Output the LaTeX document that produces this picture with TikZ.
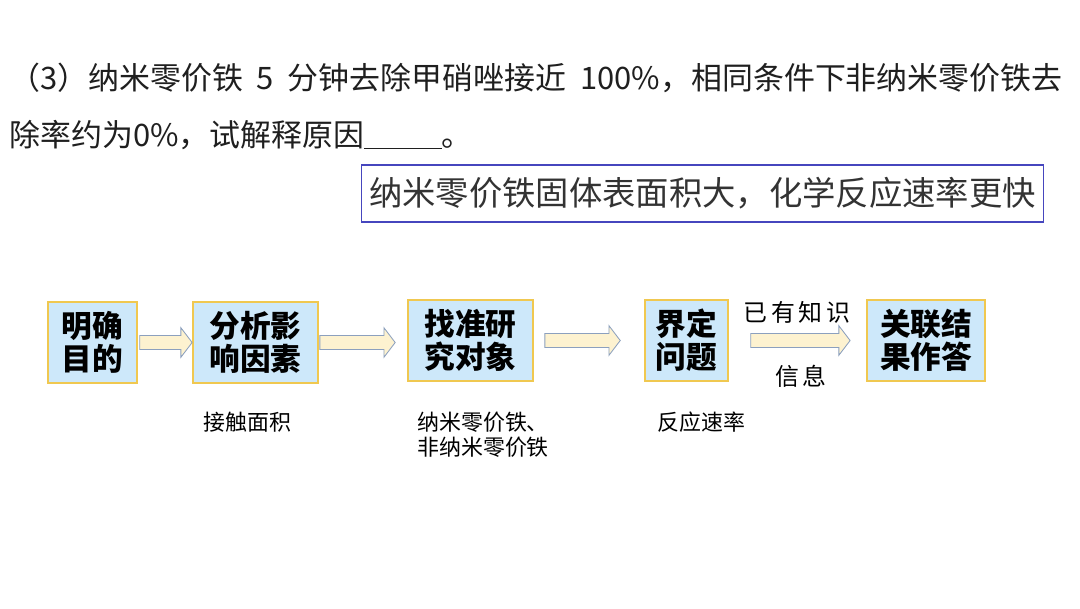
\documentclass[tikz,border=0pt]{standalone}
\usepackage{fontspec}
\setmainfont{Noto Sans CJK SC}
\newfontfamily\cjk{Noto Sans CJK SC}
\usetikzlibrary{calc}
\definecolor{boxfill}{RGB}{205,232,250}
\definecolor{boxline}{RGB}{240,200,80}
\definecolor{arrowfill}{RGB}{253,242,208}
\definecolor{arrowline}{RGB}{140,160,190}
\definecolor{ansline}{RGB}{70,70,190}
\tikzset{
  stemtext/.style={anchor=west, inner sep=0pt, text=black!88, font=\cjk\fontsize{22}{26}\selectfont},
  flowbox/.style={draw=boxline, line width=1.2pt, fill=boxfill, align=center, minimum height=2.025cm, inner sep=0pt, font=\cjk\bfseries\fontsize{21.8}{23.5}\selectfont},
  arrowbody/.style={draw=arrowline, line width=0.6pt, fill=arrowfill},
  notetext/.style={inner sep=0pt, align=left, font=\cjk\fontsize{15.6}{17.8}\selectfont},
  hinttext/.style={inner sep=0pt, font=\cjk\fontsize{17}{20}\selectfont}
}
\newcommand{\flowarrow}[4]{%
  \path[arrowbody] let \p1=(#1.east), \p2=(#2.west) in
    (\x1+#3, \y1+5pt) -- (\x2-#4-8pt, \y1+5pt) -- (\x2-#4-8pt, \y1+10.5pt) -- (\x2-#4, \y1)
    -- (\x2-#4-8pt, \y1-10.5pt) -- (\x2-#4-8pt, \y1-5pt) -- (\x1+#3, \y1-5pt) -- cycle;}
\begin{document}
\begin{tikzpicture}[x=0.025cm, y=-0.025cm]
\useasboundingbox[fill=white] (0,0) rectangle (1080,608);
\node[stemtext] (q1) at (9,78) {（3）纳米零价铁\hspace{0.45em}5\hspace{0.45em}分钟去除甲硝唑接近\hspace{0.45em}100\%，相同条件下非纳米零价铁去};
\node[stemtext] (q2) at (9,135) {除率约为0\%，试解释原因\underline{\hspace{1.93cm}}。};
\node[draw=ansline, line width=0.8pt, minimum width=17.025cm, minimum height=1.425cm, inner sep=0pt, text=black!80, font=\cjk\fontsize{23.7}{28}\selectfont] (ans) at (702.5,193.5) {纳米零价铁固体表面积大，化学反应速率更快};
\node[flowbox, minimum width=2.225cm] (b1) at (92.5,342.5) {明确\\目的};
\node[flowbox, minimum width=3.125cm] (b2) at (255.5,342.5) {分析影\\响因素};
\node[flowbox, minimum width=3.125cm] (b3) at (470.5,340.5) {找准研\\究对象};
\node[flowbox, minimum width=2.075cm] (b4) at (686.5,340.5) {界定\\问题};
\node[flowbox, minimum width=2.95cm] (b5) at (926,340.5) {关联结\\果作答};
\flowarrow{b1}{b2}{1.4pt}{0pt}
\flowarrow{b2}{b3}{0.7pt}{8.5pt}
\flowarrow{b3}{b4}{7.8pt}{17pt}
\flowarrow{b4}{b5}{15.6pt}{11.4pt}
\node[hinttext] (h1) at (797,312) {已\hspace{0.15em}有\hspace{0.15em}知\hspace{0.15em}识};
\node[hinttext] (h2) at (801,376) {信\hspace{0.15em}息};
\node[notetext, anchor=west] (n1) at (203,422) {接触面积};
\node[notetext, anchor=north west] (n2) at (417,412) {纳米零价铁、\\非纳米零价铁};
\node[notetext, anchor=west] (n3) at (657,422) {反应速率};
\end{tikzpicture}
\end{document}
